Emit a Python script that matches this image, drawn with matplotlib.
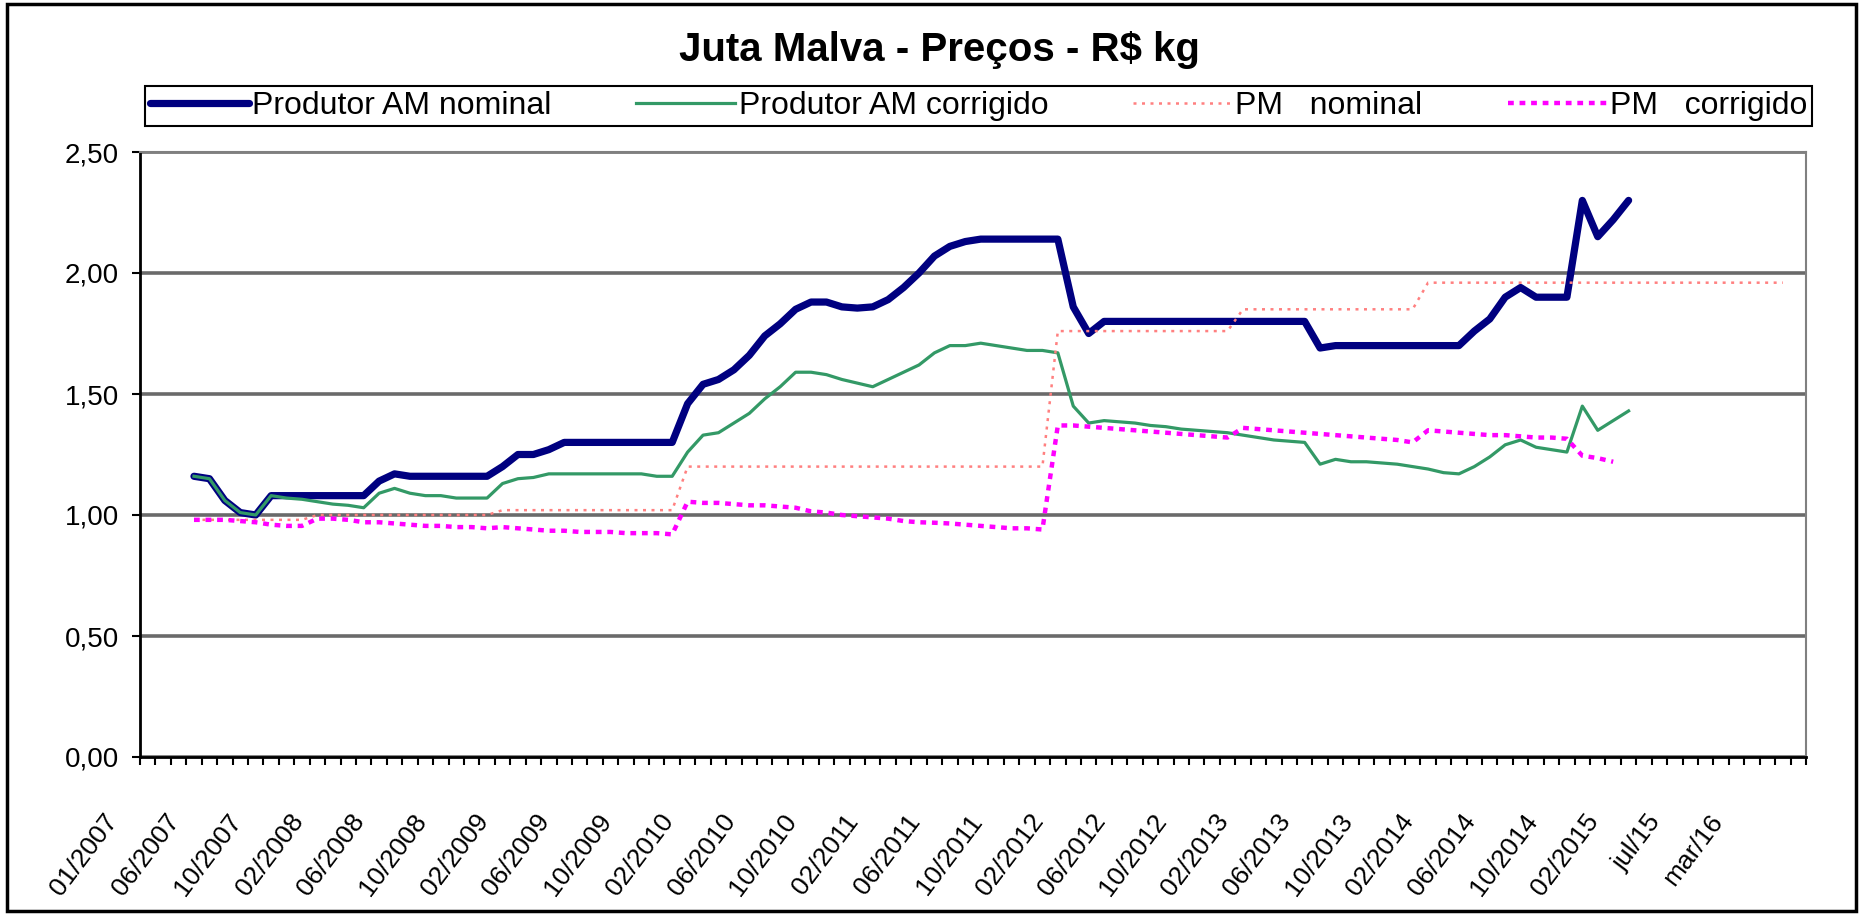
import numpy as np
import matplotlib
matplotlib.use("Agg")
import matplotlib.pyplot as plt
from matplotlib.transforms import ScaledTranslation
from matplotlib.patches import Rectangle
from matplotlib.ticker import FuncFormatter

plt.rcParams['font.family'] = ['Liberation Sans', 'DejaVu Sans']

# ---------------- data ----------------
title = "Juta Malva - Preços - R$ kg"
series_names = ["Produtor AM nominal", "Produtor AM corrigido", "PM   nominal", "PM   corrigido"]

tick_labels = ["01/2007", "06/2007", "10/2007", "02/2008", "06/2008", "10/2008",
               "02/2009", "06/2009", "10/2009", "02/2010", "06/2010", "10/2010",
               "02/2011", "06/2011", "10/2011", "02/2012", "06/2012", "10/2012",
               "02/2013", "06/2013", "10/2013", "02/2014", "06/2014", "10/2014",
               "02/2015", "jul/15", "mar/16"]
categories_per_label = 4

prod_nominal = [None, None, None,
    1.16, 1.15, 1.06, 1.01, 1.00,
    1.08, 1.08, 1.08, 1.08, 1.08, 1.08, 1.08,
    1.14, 1.17, 1.16, 1.16, 1.16, 1.16, 1.16, 1.16,
    1.20, 1.25, 1.25, 1.27,
    1.30, 1.30, 1.30, 1.30, 1.30, 1.30, 1.30, 1.30,
    1.46, 1.54, 1.56, 1.60, 1.66, 1.74, 1.79, 1.85, 1.88, 1.88,
    1.86, 1.855, 1.86, 1.89, 1.94, 2.00, 2.07, 2.11, 2.13,
    2.14, 2.14, 2.14, 2.14, 2.14, 2.14,
    1.86, 1.75,
    1.80, 1.80, 1.80, 1.80, 1.80, 1.80, 1.80, 1.80, 1.80, 1.80, 1.80, 1.80, 1.80, 1.80,
    1.69,
    1.70, 1.70, 1.70, 1.70, 1.70, 1.70, 1.70, 1.70, 1.70,
    1.76, 1.81, 1.90, 1.94, 1.90, 1.90, 1.90,
    2.30, 2.15, 2.22, 2.30]

prod_corrigido = [None, None, None,
    1.16, 1.15, 1.06, 1.01, 1.00,
    1.08, 1.07, 1.065, 1.055, 1.045, 1.04, 1.03,
    1.09, 1.11, 1.09, 1.08, 1.08, 1.07, 1.07, 1.07,
    1.13, 1.15, 1.155, 1.17,
    1.17, 1.17, 1.17, 1.17, 1.17, 1.17, 1.16, 1.16,
    1.26, 1.33, 1.34, 1.38, 1.42, 1.48, 1.53, 1.59, 1.59, 1.58,
    1.56, 1.545, 1.53, 1.56, 1.59, 1.62, 1.67, 1.70, 1.70,
    1.71, 1.70, 1.69, 1.68, 1.68, 1.67,
    1.45, 1.38,
    1.39, 1.385, 1.38, 1.37, 1.365, 1.355, 1.35, 1.345, 1.34, 1.33, 1.32, 1.31, 1.305, 1.30,
    1.21,
    1.23, 1.22, 1.22, 1.215, 1.21, 1.20, 1.19, 1.175, 1.17,
    1.20, 1.24, 1.29, 1.31, 1.28, 1.27, 1.26,
    1.45, 1.35, 1.39, 1.43]

pm_nominal = [None, None, None,
    0.98, 0.98, 0.98, 0.98, 0.98, 0.98, 0.98, 0.98,
    1.00, 1.00, 1.00, 1.00, 1.00, 1.00, 1.00, 1.00, 1.00, 1.00, 1.00, 1.00,
    1.02, 1.02, 1.02, 1.02, 1.02, 1.02, 1.02, 1.02, 1.02, 1.02, 1.02, 1.02,
    1.20, 1.20, 1.20, 1.20, 1.20, 1.20, 1.20, 1.20, 1.20, 1.20, 1.20, 1.20,
    1.20, 1.20, 1.20, 1.20, 1.20, 1.20, 1.20, 1.20, 1.20, 1.20, 1.20, 1.20,
    1.76, 1.76, 1.76, 1.76, 1.76, 1.76, 1.76, 1.76, 1.76, 1.76, 1.76, 1.76,
    1.85, 1.85, 1.85, 1.85, 1.85, 1.85, 1.85, 1.85, 1.85, 1.85, 1.85, 1.85,
    1.96, 1.96, 1.96, 1.96, 1.96, 1.96, 1.96, 1.96, 1.96, 1.96, 1.96, 1.96,
    1.96, 1.96, 1.96, 1.96, 1.96, 1.96, 1.96, 1.96, 1.96, 1.96, 1.96, 1.96]

pm_corrigido = [None, None, None,
    0.98, 0.98, 0.98, 0.975, 0.97, 0.96, 0.955, 0.955,
    0.985, 0.985, 0.98, 0.97, 0.97, 0.965, 0.96, 0.955, 0.955, 0.95, 0.95, 0.945,
    0.95, 0.945, 0.94, 0.935, 0.935, 0.93, 0.93, 0.93, 0.925, 0.925, 0.925, 0.92,
    1.055, 1.05, 1.05, 1.045, 1.04, 1.04, 1.035, 1.03, 1.015, 1.01, 1.00, 0.995,
    0.99, 0.985, 0.975, 0.97, 0.968, 0.965, 0.96, 0.955, 0.95, 0.945, 0.945, 0.94,
    1.37, 1.37, 1.365, 1.36, 1.355, 1.35, 1.345, 1.34, 1.335, 1.33, 1.325, 1.32,
    1.36, 1.355, 1.35, 1.345, 1.34, 1.335, 1.33, 1.325, 1.32, 1.315, 1.31, 1.30,
    1.35, 1.345, 1.34, 1.335, 1.33, 1.33, 1.325, 1.32, 1.32, 1.315,
    1.245, 1.235, 1.22]

y_ticks = [0.0, 0.5, 1.0, 1.5, 2.0, 2.5]

# ---------------- figure ----------------
W, H, DPI = 1863, 915, 100
fig = plt.figure(figsize=(W / DPI, H / DPI), dpi=DPI)
fig.patch.set_facecolor('white')

ax = fig.add_axes([140 / W, 1 - 757 / H, (1806 - 140) / W, (757 - 152) / H])

n_cat = len(tick_labels) * categories_per_label

def arr(s):
    return np.array([np.nan if v is None else v for v in s], dtype=float)

styles = [
    dict(color='#000080', lw=5.2, ls='-', solid_capstyle='round', solid_joinstyle='round'),
    dict(color='#339966', lw=2.3, ls='-', solid_joinstyle='round'),
    dict(color='#FF8080', lw=1.8, ls=(0, (1.2, 2.2))),
    dict(color='#FF00FF', lw=3.2, ls=(0, (1.3, 1.3))),
]
for data, name, st in zip([prod_nominal, prod_corrigido, pm_nominal, pm_corrigido],
                          series_names, styles):
    y = arr(data)
    ax.plot(np.arange(len(y)), y, label=name, zorder=3, **st)

ax.set_xlim(-0.5, n_cat - 0.5)
ax.set_ylim(y_ticks[0], y_ticks[-1])

# y axis
ax.set_yticks(y_ticks)
ax.yaxis.set_major_formatter(FuncFormatter(lambda v, p: f"{v:.2f}".replace('.', ',')))
ax.yaxis.grid(True, color='#6a6a6a', lw=2.6)
ax.set_axisbelow(True)
ax.tick_params(axis='y', direction='out', length=6, width=1.5, pad=9, labelsize=20)

# x axis: ticks at every category boundary, labels every 4 categories
ax.set_xticks(np.arange(-0.5, n_cat, 1.0), minor=True)
ax.set_xticks(np.arange(0, n_cat, categories_per_label))
ax.set_xticklabels(tick_labels)
ax.tick_params(axis='x', which='minor', direction='out', length=6, width=1.5)
ax.tick_params(axis='x', which='major', length=0, pad=38, labelsize=19)
offset = ScaledTranslation(-44 / DPI, 0, fig.dpi_scale_trans)
for lab in ax.get_xticklabels():
    lab.set_rotation(53)
    lab.set_ha('right')
    lab.set_va('top')
    lab.set_rotation_mode('anchor')
    lab.set_transform(lab.get_transform() + offset)

for side in ['left', 'bottom']:
    ax.spines[side].set_color('black')
    ax.spines[side].set_linewidth(2)
for side in ['top', 'right']:
    ax.spines[side].set_color('#808080')
    ax.spines[side].set_linewidth(1.5)

# title
fig.text(939 / W, 1 - 50 / H, title, ha='center', va='center',
         fontsize=29, fontweight='bold')

# legend
leg = fig.legend(loc='lower left', ncol=4, mode='expand',
                 bbox_to_anchor=(145 / W, 1 - 126 / H, (1812 - 145) / W, 48 / H),
                 bbox_transform=fig.transFigure,
                 fontsize=23, handlelength=3.1, handletextpad=0.1,
                 borderpad=0.15, borderaxespad=0, fancybox=False, framealpha=1)
leg.get_frame().set_edgecolor('black')
leg.get_frame().set_linewidth(1.5)

# outer chart border
fig.patches.append(Rectangle((0.004, 0.004), 0.992, 0.992, transform=fig.transFigure,
                             fill=False, ec='black', lw=2.5))

fig.savefig('out.png', dpi=DPI)
